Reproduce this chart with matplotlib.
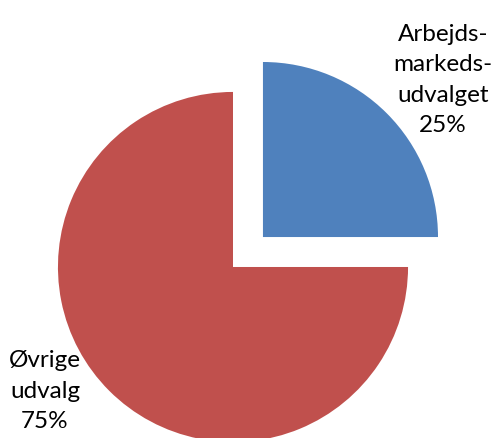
import matplotlib
matplotlib.use("Agg")
import matplotlib.pyplot as plt

categories = ["Arbejds-\nmarkeds-\nudvalget", "Øvrige\nudvalg"]
values = [25, 75]
colors = ["#4F81BD", "#C0504D"]
explode = [0.242, 0.0]

fig = plt.figure(figsize=(4.94, 4.39), dpi=100)
ax = fig.add_axes([0, 0, 1, 1])
ax.pie(values, colors=colors, explode=explode, startangle=90, counterclock=False,
       radius=1.0, center=(0, 0), wedgeprops=dict(linewidth=0))
ax.set_xlim(-1.331, 1.491)
ax.set_ylim(-0.977, 1.531)
ax.set_aspect("auto")
ax.axis("off")

total = sum(values)
label_pos = [(1.2, 1.074), (-1.074, -0.703)]
for cat, v, (x, y) in zip(categories, values, label_pos):
    ax.text(x, y, f"{cat}\n{round(100 * v / total)}%", ha="center", va="center",
            fontsize=17.5, family="Lato", linespacing=1.55, color="black")

fig.savefig("out.png", dpi=100)
